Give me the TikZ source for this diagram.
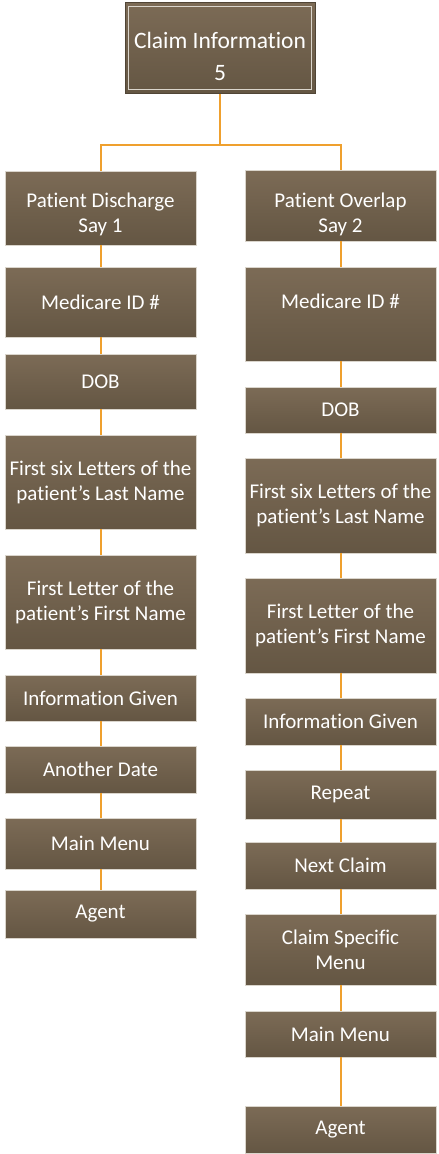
\documentclass[tikz,border=0pt]{standalone}
\usepackage{fontspec}
\setmainfont{Carlito}[Ligatures=NoCommon]
\definecolor{boxtop}{HTML}{7C6B56}
\definecolor{boxbot}{HTML}{645643}
\definecolor{boxedge}{HTML}{DAD5CC}
\definecolor{linkc}{HTML}{EFA02E}
\begin{document}
\begin{tikzpicture}[x=1pt,y=-1pt,
  box/.style={rectangle, top color=boxtop, bottom color=boxbot, draw=boxedge, line width=0.7pt,
    minimum width=191pt, inner sep=0pt, align=center, text=white,
    font=\fontsize{21}{25}\selectfont},
  lbl/.style={align=center, text=white, inner sep=0pt, font=\fontsize{21}{25}\selectfont},
  toplbl/.style={align=center, text=white, inner sep=0pt, font=\fontsize{23.5}{32}\selectfont},
  topbox/.style={rectangle, top color=boxtop, bottom color=boxbot, draw=boxbot!80!black, line width=0.7pt,
    minimum width=190pt, minimum height=91pt, inner sep=0pt},
  link/.style={draw=linkc, line width=2pt}]
\useasboundingbox (0,0) rectangle (439,1154);

% top
\node[topbox, label={[toplbl, yshift=-8pt]center:Claim Information\\5}] (top) at (220,48) {};
\draw[boxedge, line width=1pt] ([xshift=4pt,yshift=-4pt]top.north west) rectangle ([xshift=-4pt,yshift=4pt]top.south east);

% left column
\node[box, minimum height=74pt, label={[lbl, yshift=-6pt]center:Patient Discharge\\Say 1}] (l1) at (100.5,208) {};
\node[box, minimum height=70pt] (l2) at (100.5,302) {Medicare ID \#};
\node[box, minimum height=55pt] (l3) at (100.5,381.5) {DOB};
\node[box, minimum height=94pt] (l4) at (100.5,482) {First six Letters of the\\patient’s Last Name};
\node[box, minimum height=94pt] (l5) at (100.5,602) {First Letter of the\\patient’s First Name};
\node[box, minimum height=46pt] (l6) at (100.5,698) {Information Given};
\node[box, minimum height=47pt] (l7) at (100.5,769.5) {Another Date};
\node[box, minimum height=51pt] (l8) at (100.5,843.5) {Main Menu};
\node[box, minimum height=48pt] (l9) at (100.5,914) {Agent};

% right column
\node[box, minimum height=71pt, label={[lbl, yshift=-8.5pt]center:Patient Overlap\\Say 2}] (r1) at (340.5,205.5) {};
\node[box, minimum height=94pt] (r2) at (340.5,314) {Medicare ID \#\\\mbox{}};
\node[box, minimum height=46pt] (r3) at (340.5,410) {DOB};
\node[box, minimum height=95pt] (r4) at (340.5,505.5) {First six Letters of the\\patient’s Last Name};
\node[box, minimum height=95pt] (r5) at (340.5,625.5) {First Letter of the\\patient’s First Name};
\node[box, minimum height=47pt] (r6) at (340.5,721.5) {Information Given};
\node[box, minimum height=49pt] (r7) at (340.5,794.5) {Repeat};
\node[box, minimum height=47pt] (r8) at (340.5,865.5) {Next Claim};
\node[box, minimum height=71pt] (r9) at (340.5,949.5) {Claim Specific\\Menu};
\node[box, minimum height=46pt] (r10) at (340.5,1034) {Main Menu};
\node[box, minimum height=47pt] (r11) at (340.5,1129.5) {Agent};

% connectors
\coordinate (j) at (220,145);
\draw[link] (top.south) -- (j);
\draw[link] (l1.north) |- (j) -| (r1.north);
\foreach \a/\b in {l1/l2,l2/l3,l3/l4,l4/l5,l5/l6,l6/l7,l7/l8,l8/l9,
                   r1/r2,r2/r3,r3/r4,r4/r5,r5/r6,r6/r7,r7/r8,r8/r9,r9/r10,r10/r11}
  \draw[link] (\a.south) -- (\b.north);
\end{tikzpicture}
\end{document}
